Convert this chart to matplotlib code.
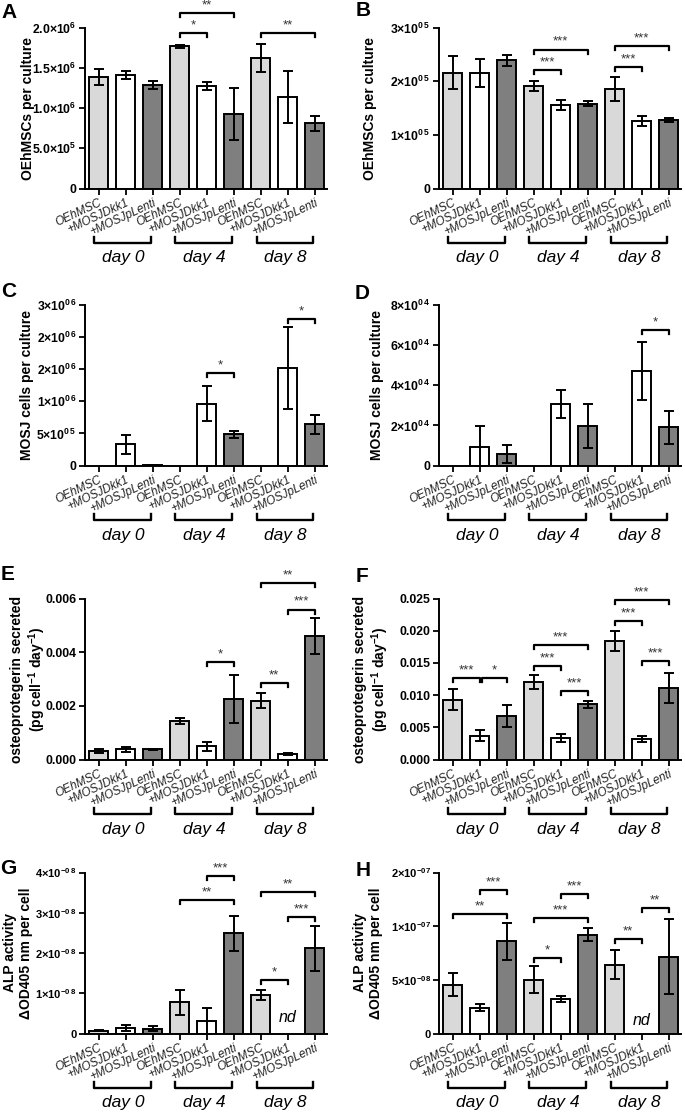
import numpy as np
import matplotlib
matplotlib.use("Agg")
import matplotlib.pyplot as plt

plt.rcParams['font.family'] = ['Liberation Sans', 'DejaVu Sans']
plt.rcParams['mathtext.fontset'] = 'custom'
plt.rcParams['mathtext.rm'] = 'Liberation Sans:bold'
plt.rcParams['mathtext.it'] = 'Liberation Sans:bold:italic'
plt.rcParams['mathtext.bf'] = 'Liberation Sans:bold'

groups = ['OEhMSC', '+MOSJDkk1', '+MOSJpLenti'] * 3
days = ['day 0', 'day 4', 'day 8']
bar_colors = ['#d9d9d9', '#ffffff', '#7f7f7f'] * 3
nan = np.nan

# A: OEhMSCs per culture (total)
a_mean = [1.385e6, 1.41e6, 1.285e6, 1.766e6, 1.27e6, 0.928e6, 1.62e6, 1.138e6, 0.81e6]
a_err = [1.0e5, 4.5e4, 5e4, 1.5e4, 5e4, 3.25e5, 1.77e5, 3.2e5, 9e4]
a_sig = [(3, 5, 2.18e6, '**'), (3, 4, 1.926e6, '*'), (6, 8, 1.926e6, '**')]
a_ticks = [0, 5e5, 1e6, 1.5e6, 2e6]
a_labels = ['0', '5.0×10$^{5}$', '1.0×10$^{6}$', '1.5×10$^{6}$', '2.0×10$^{6}$']

# B: OEhMSCs per culture (transwell)
b_mean = [2.156e5, 2.156e5, 2.39e5, 1.906e5, 1.5625e5, 1.58e5, 1.856e5, 1.256e5, 1.27e5]
b_err = [0.31e5, 0.26e5, 0.1e5, 0.095e5, 0.094e5, 0.045e5, 0.22e5, 0.094e5, 0.04e5]
b_sig = [(3, 5, 2.59e5, '***'), (3, 4, 2.206e5, '***'), (6, 8, 2.656e5, '***'), (6, 7, 2.256e5, '***')]
b_ticks = [0, 1e5, 2e5, 3e5]
b_labels = ['0', '1×10$^{0\\,5}$', '2×10$^{0\\,5}$', '3×10$^{0\\,5}$']

# C: MOSJ cells per culture (total)
c_mean = [nan, 3.3e5, 1.0e4, nan, 9.64e5, 4.85e5, nan, 1.515e6, 6.44e5]
c_err = [nan, 1.5e5, 3e3, nan, 2.7e5, 5e4, nan, 6.4e5, 1.45e5]
c_sig = [(4, 5, 1.43e6, '*'), (7, 8, 2.28e6, '*')]
c_ticks = [0, 5e5, 1e6, 1.5e6, 2e6, 2.5e6]
c_labels = ['0', '5×10$^{0\\,5}$', '1×10$^{0\\,6}$', '2×10$^{0\\,6}$', '2×10$^{0\\,6}$', '3×10$^{0\\,6}$']

# D: MOSJ cells per culture (transwell)
d_mean = [nan, 0.944e4, 0.6e4, nan, 3.08e4, 1.99e4, nan, 4.69e4, 1.9e4]
d_err = [nan, 1.03e4, 0.45e4, nan, 0.7e4, 1.09e4, nan, 1.44e4, 0.83e4]
d_sig = [(7, 8, 6.71e4, '*')]
d_ticks = [0, 2e4, 4e4, 6e4, 8e4]
d_labels = ['0', '2×10$^{0\\,4}$', '4×10$^{0\\,4}$', '6×10$^{0\\,4}$', '8×10$^{0\\,4}$']

# E: osteoprotegerin (total)
e_mean = [0.00032, 0.00038, 0.00038, 0.001447, 0.000507, 0.00225, 0.0022, 0.00021, 0.00461]
e_err = [0.00008, 0.00009, 0.00002, 0.00011, 0.00017, 0.0009, 0.00029, 0.00003, 0.00067]
e_sig = [(4, 5, 0.00362, '*'), (6, 7, 0.00285, '**'), (7, 8, 0.00559, '***'), (6, 8, 0.00656, '**')]
e_ticks = [0, 0.002, 0.004, 0.006]
e_labels = ['0.000', '0.002', '0.004', '0.006']

# F: osteoprotegerin (transwell)
f_mean = [0.0093, 0.00374, 0.00681, 0.01206, 0.00338, 0.00858, 0.0184, 0.00317, 0.01112]
f_err = [0.0016, 0.0009, 0.0017, 0.0011, 0.0006, 0.0006, 0.0016, 0.0005, 0.0023]
f_sig = [(0, 1, 0.01268, '***'), (1.08, 2, 0.01268, '*'), (3, 4, 0.0146, '***'), (3, 5, 0.01778, '***'),
         (4, 5, 0.0107, '***'), (6, 7, 0.0215, '***'), (6, 8, 0.0248, '***'), (7, 8, 0.01533, '***')]
f_ticks = [0, 0.005, 0.010, 0.015, 0.020, 0.025]
f_labels = ['0.000', '0.005', '0.010', '0.015', '0.020', '0.025']

# G: ALP activity (total)
g_mean = [0.066e-8, 0.13e-8, 0.12e-8, 0.78e-8, 0.30e-8, 2.49e-8, 0.96e-8, nan, 2.12e-8]
g_err = [0.01e-8, 0.07e-8, 0.06e-8, 0.31e-8, 0.33e-8, 0.44e-8, 0.12e-8, nan, 0.56e-8]
g_sig = [(4, 5, 3.92e-8, '***'), (3, 5, 3.32e-8, '**'), (6, 7, 1.32e-8, '*'), (7, 8, 2.905e-8, '***'),
         (6, 8, 3.52e-8, '**')]
g_ticks = [0, 1e-8, 2e-8, 3e-8, 4e-8]
g_labels = ['0', '1×10$^{-0\\,8}$', '2×10$^{-0\\,8}$', '3×10$^{-0\\,8}$', '4×10$^{-0\\,8}$']

# H: ALP activity (transwell)
h_mean = [4.56e-8, 2.41e-8, 8.59e-8, 5.03e-8, 3.22e-8, 9.22e-8, 6.41e-8, nan, 7.16e-8]
h_err = [1.06e-8, 0.31e-8, 1.72e-8, 1.25e-8, 0.25e-8, 0.62e-8, 1.37e-8, nan, 3.5e-8]
h_sig = [(0, 2, 11.09e-8, '**'), (1, 2, 13.375e-8, '***'), (3, 4, 7.06e-8, '*'), (3, 5, 10.78e-8, '***'),
         (4, 5, 13.03e-8, '***'), (6, 7, 8.81e-8, '**'), (7, 8, 11.66e-8, '**')]
h_ticks = [0, 5e-8, 1e-7, 1.5e-7]
h_labels = ['0', '5×10$^{-08}$', '1×10$^{-07}$', '2×10$^{-07}$']

W, H = 685, 1114
fig = plt.figure(figsize=(W / 100, H / 100), dpi=100)


def make_axes(left, top, bottom, width=242):
    return fig.add_axes([left / W, 1 - bottom / H, width / W, (bottom - top) / H])


def draw_panel(ax, means, errs, sigs, ymax, ticks, labels, ylabel, label_off,
               tick_fs=8.8, nd_y=None):
    x = np.arange(9)
    m = np.array(means, dtype=float)
    e = np.array(errs, dtype=float)
    ok = ~np.isnan(m)
    cols = [c for c, k in zip(bar_colors, ok) if k]
    ax.bar(x[ok], m[ok], width=0.68, color=cols, edgecolor='black', linewidth=1.4, zorder=2)
    ax.errorbar(x[ok], m[ok], yerr=e[ok], fmt='none', ecolor='black', elinewidth=1.4,
                capsize=3.5, capthick=1.4, zorder=3)

    ax.set_xlim(-0.5, 8.46)
    ax.set_ylim(0, ymax)
    for s in ['top', 'right']:
        ax.spines[s].set_visible(False)
    for s in ['left', 'bottom']:
        ax.spines[s].set_linewidth(1.4)
    ax.set_yticks(ticks)
    ax.set_yticklabels(labels, fontweight='bold', fontsize=tick_fs)
    ax.set_xticks(x)
    ax.set_xticklabels(groups, rotation=25, ha='right', rotation_mode='anchor',
                       fontstyle='italic', fontsize=8.5, color='#222222')
    ax.tick_params(axis='both', direction='out', length=4, width=1.3, pad=2)

    ax.set_ylabel(ylabel, fontweight='bold', fontsize=10, linespacing=1.1)
    ax.yaxis.label.set_va('center')
    ax.yaxis.set_label_coords(-label_off / 242, 0.5)

    # day brackets under the tick labels
    trans = ax.get_xaxis_transform()
    for d, name in enumerate(days):
        x0, x1 = 3 * d - 0.15, 3 * d + 2 - 0.05
        ax.plot([x0, x0, x1, x1], [-0.30, -0.338, -0.338, -0.30], color='black', lw=1.7,
                transform=trans, clip_on=False)
        ax.text((x0 + x1) / 2, -0.43, name, transform=trans, ha='center', va='center',
                fontsize=12.5, fontstyle='italic')

    # significance brackets
    h = ymax * 4 / 161
    for i, j, y, star in sigs:
        ax.plot([i, i, j, j], [y - h, y, y, y - h], color='black', lw=1.6, clip_on=False, zorder=4)
        ax.text((i + j) / 2, y + ymax * 0.01, star, ha='center', va='bottom', fontsize=9.5,
                color='#333333', clip_on=False)

    if nd_y is not None:
        ax.text(7, nd_y, 'nd', ha='center', va='center', fontsize=11.5, fontstyle='italic')


ax = make_axes(85, 27.5, 188.5)
draw_panel(ax, a_mean, a_err, a_sig, 2e6, a_ticks, a_labels, 'OEhMSCs per culture', 57)
ax = make_axes(439, 27.5, 188.5)
draw_panel(ax, b_mean, b_err, b_sig, 3e5, b_ticks, b_labels, 'OEhMSCs per culture', 69)
ax = make_axes(85, 304.5, 465.7)
draw_panel(ax, c_mean, c_err, c_sig, 2.5e6, c_ticks, c_labels, 'MOSJ cells per culture', 58)
ax = make_axes(439, 304.5, 465.7)
draw_panel(ax, d_mean, d_err, d_sig, 8e4, d_ticks, d_labels, 'MOSJ cells per culture', 62)
ax = make_axes(85, 598.5, 759.7)
draw_panel(ax, e_mean, e_err, e_sig, 0.006, e_ticks, e_labels,
           'osteoprotegerin secreted\n(pg cell$^{-1}$ day$^{-1}$)', 56)
ax = make_axes(439, 598.5, 759.7)
draw_panel(ax, f_mean, f_err, f_sig, 0.025, f_ticks, f_labels,
           'osteoprotegerin secreted\n(pg cell$^{-1}$ day$^{-1}$)', 67)
ax = make_axes(85, 872.5, 1033.5)
draw_panel(ax, g_mean, g_err, g_sig, 4e-8, g_ticks, g_labels,
           'ALP activity\nΔOD405 nm per cell', 67, tick_fs=8, nd_y=0.4e-8)
ax = make_axes(439, 872.5, 1033.5)
draw_panel(ax, h_mean, h_err, h_sig, 1.5e-7, h_ticks, h_labels,
           'ALP activity\nΔOD405 nm per cell', 71, tick_fs=8, nd_y=1.19e-8)

letters = [('A', 9, 12), ('B', 363, 11), ('C', 9, 291), ('D', 362, 293),
           ('E', 8, 575), ('F', 362, 576), ('G', 8, 868), ('H', 363, 870)]
for t, lx, ly in letters:
    fig.text(lx / W, 1 - ly / H, t, fontsize=15, fontweight='bold', ha='center', va='center')

fig.savefig('out.png', dpi=100)
